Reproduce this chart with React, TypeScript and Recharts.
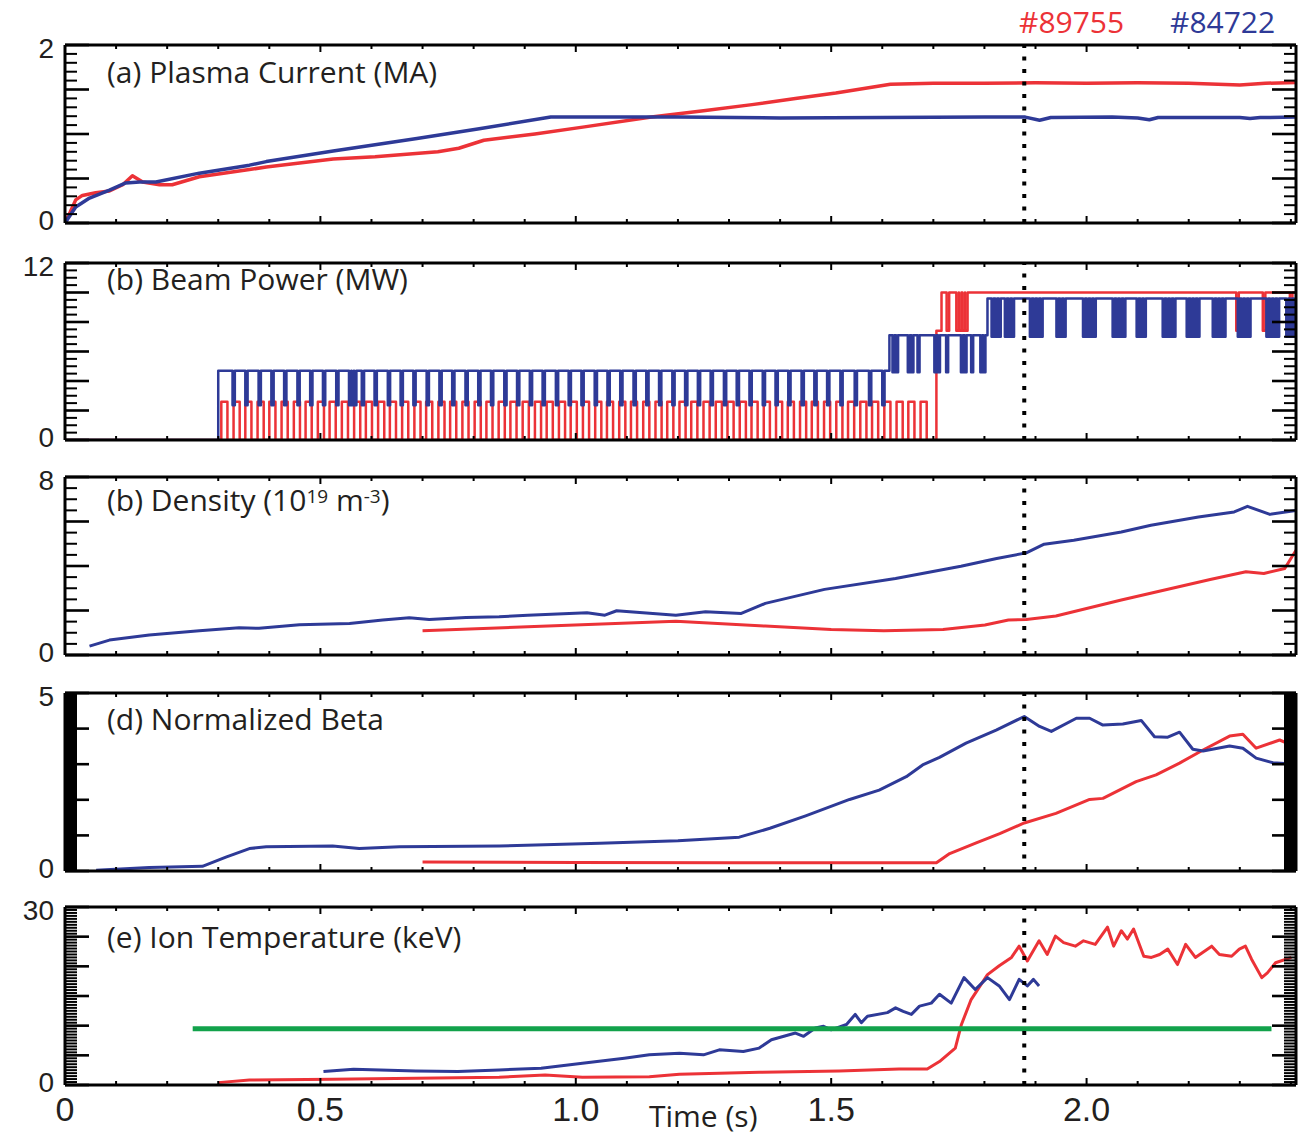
import React from "react";
import { LineChart, Line, XAxis, YAxis, ReferenceLine } from "recharts";

type Pt = [number, number];

const RED = "#EC3237";
const BLUE = "#2E3A97";
const GREEN = "#12A24B";

// ---------- shared axis data ----------
const timeTicks = [0, 0.1, 0.2, 0.3, 0.4, 0.5, 0.6, 0.7, 0.8, 0.9, 1.0, 1.1, 1.2, 1.3, 1.4, 1.5, 1.6, 1.7, 1.8, 1.9, 2.0, 2.1, 2.2, 2.3, 2.4];
const timeLabelValues = [0, 0.5, 1.0, 1.5, 2.0];
const timeLabelTexts = ["0", "0.5", "1.0", "1.5", "2.0"];
const markerTime = 1.878;
const shotRed = "#89755";
const shotBlue = "#84722";

// ---------- (a) plasma current ----------
const ipRed: Pt[] = [
  [0, 0], [0.01, 0.12], [0.021, 0.26], [0.034, 0.31], [0.06, 0.34], [0.087, 0.36], [0.113, 0.43], [0.132, 0.53],
  [0.152, 0.46], [0.185, 0.43], [0.21, 0.43], [0.263, 0.52], [0.361, 0.6], [0.394, 0.63], [0.525, 0.72], [0.607, 0.745],
  [0.73, 0.8], [0.771, 0.84], [0.82, 0.93], [0.92, 1.0], [1.017, 1.08], [1.148, 1.19], [1.25, 1.26], [1.345, 1.33],
  [1.43, 1.4], [1.509, 1.46], [1.616, 1.56], [1.7, 1.57], [1.8, 1.57], [1.9, 1.575], [2.0, 1.57], [2.1, 1.575],
  [2.2, 1.57], [2.3, 1.55], [2.35, 1.57], [2.41, 1.58],
];
const ipBlue: Pt[] = [
  [0, 0], [0.021, 0.18], [0.048, 0.28], [0.087, 0.37], [0.119, 0.45], [0.146, 0.46], [0.178, 0.46], [0.263, 0.56],
  [0.361, 0.65], [0.394, 0.69], [0.525, 0.81], [0.689, 0.95], [0.811, 1.06], [0.951, 1.19], [1.05, 1.19], [1.2, 1.19],
  [1.4, 1.18], [1.6, 1.185], [1.8, 1.19], [1.88, 1.19], [1.908, 1.155], [1.93, 1.185], [2.05, 1.19], [2.1, 1.18],
  [2.123, 1.16], [2.14, 1.185], [2.3, 1.185], [2.32, 1.175], [2.34, 1.185], [2.41, 1.19],
];

// ---------- (b) beam power ----------
interface BeamPhase { from: number; base: number; alt: number; width: number; at: number[] }
const pbRedPhases: BeamPhase[] = [
  { from: 0, base: 0, alt: 0, width: 0, at: [] },
  {
    from: 0.306, base: 0, alt: 2.6, width: 0.012,
    at: [0.306, 0.33, 0.353, 0.377, 0.4, 0.424, 0.448, 0.471, 0.495, 0.518, 0.542, 0.566, 0.589, 0.613, 0.636, 0.66,
      0.684, 0.707, 0.731, 0.754, 0.778, 0.802, 0.825, 0.849, 0.872, 0.896, 0.92, 0.943, 0.967, 0.99, 1.014, 1.038,
      1.061, 1.085, 1.108, 1.132, 1.156, 1.179, 1.203, 1.226, 1.25, 1.274, 1.297, 1.321, 1.344, 1.368, 1.392, 1.415,
      1.439, 1.462, 1.486, 1.51, 1.533, 1.557, 1.58, 1.604, 1.628, 1.651, 1.675],
  },
  { from: 1.706, base: 7.4, alt: 7.4, width: 0, at: [] },
  { from: 1.716, base: 10.0, alt: 7.4, width: 0.005, at: [1.726, 1.745, 1.750, 1.757, 1.762, 2.293, 2.345, 2.398] },
];
const pbBluePhases: BeamPhase[] = [
  { from: 0, base: 0, alt: 0, width: 0, at: [] },
  {
    from: 0.3, base: 4.7, alt: 2.35, width: 0.0045,
    at: [0.328, 0.353, 0.379, 0.404, 0.429, 0.455, 0.48, 0.505, 0.531, 0.556, 0.561, 0.566, 0.581, 0.606, 0.632, 0.657,
      0.682, 0.708, 0.733, 0.758, 0.784, 0.809, 0.834, 0.86, 0.885, 0.91, 0.935, 0.961, 0.986, 1.011, 1.037, 1.062,
      1.087, 1.113, 1.138, 1.163, 1.189, 1.214, 1.239, 1.264, 1.29, 1.315, 1.34, 1.366, 1.391, 1.416, 1.442, 1.467,
      1.492, 1.518, 1.546, 1.574, 1.6],
  },
  {
    from: 1.614, base: 7.1, alt: 4.6, width: 0.004,
    at: [1.62, 1.627, 1.65, 1.657, 1.669, 1.702, 1.709, 1.725, 1.754, 1.761, 1.774, 1.792, 1.798],
  },
  {
    from: 1.806, base: 9.6, alt: 7.0, width: 0.004,
    at: [1.814, 1.821, 1.828, 1.84, 1.847, 1.854, 1.889, 1.896, 1.903, 1.910, 1.941, 1.948, 1.955, 1.993, 2.0, 2.007,
      2.014, 2.051, 2.058, 2.065, 2.072, 2.098, 2.105, 2.112, 2.149, 2.156, 2.163, 2.170, 2.196, 2.203, 2.210, 2.217,
      2.247, 2.254, 2.261, 2.268, 2.296, 2.303, 2.310, 2.317, 2.352, 2.359, 2.366, 2.373, 2.391, 2.398, 2.405],
  },
];

// ---------- (c) density ----------
const neBlue: Pt[] = [
  [0.048, 0.4], [0.087, 0.67], [0.165, 0.9], [0.263, 1.09], [0.341, 1.22], [0.38, 1.2], [0.459, 1.36], [0.557, 1.42],
  [0.622, 1.57], [0.674, 1.67], [0.713, 1.6], [0.785, 1.69], [0.85, 1.72], [0.906, 1.79], [1.022, 1.9], [1.057, 1.79],
  [1.08, 1.99], [1.196, 1.79], [1.254, 1.94], [1.324, 1.87], [1.371, 2.32], [1.487, 2.95], [1.626, 3.44], [1.754, 3.99],
  [1.824, 4.34], [1.882, 4.59], [1.917, 4.98], [1.975, 5.16], [2.068, 5.53], [2.126, 5.83], [2.219, 6.2], [2.289, 6.43],
  [2.315, 6.68], [2.359, 6.32], [2.411, 6.5],
];
const neRed: Pt[] = [
  [0.7, 1.09], [0.906, 1.27], [1.196, 1.52], [1.371, 1.3], [1.5, 1.15], [1.603, 1.09], [1.719, 1.15], [1.801, 1.35],
  [1.847, 1.57], [1.882, 1.6], [1.94, 1.75], [2.068, 2.47], [2.242, 3.39], [2.312, 3.74], [2.347, 3.66], [2.388, 3.89],
  [2.41, 4.71],
];

// ---------- (d) normalized beta ----------
const betaBlue: Pt[] = [
  [0.061, 0.02], [0.165, 0.1], [0.269, 0.13], [0.315, 0.39], [0.361, 0.63], [0.394, 0.68], [0.524, 0.7], [0.576, 0.63],
  [0.655, 0.68], [0.85, 0.7], [1.047, 0.78], [1.2, 0.85], [1.32, 0.95], [1.38, 1.2], [1.45, 1.55], [1.536, 2.01],
  [1.594, 2.27], [1.647, 2.65], [1.679, 2.98], [1.712, 3.19], [1.764, 3.59], [1.823, 3.96], [1.878, 4.34], [1.908, 4.06],
  [1.931, 3.92], [1.98, 4.29], [2.006, 4.29], [2.032, 4.1], [2.071, 4.13], [2.107, 4.23], [2.133, 3.77], [2.159, 3.76],
  [2.182, 3.9], [2.208, 3.42], [2.228, 3.37], [2.28, 3.51], [2.306, 3.45], [2.332, 3.17], [2.365, 3.04], [2.41, 3.0],
];
const betaRed: Pt[] = [
  [0.7, 0.25], [1.0, 0.24], [1.3, 0.23], [1.536, 0.23], [1.706, 0.23], [1.732, 0.49], [1.784, 0.79], [1.83, 1.05],
  [1.878, 1.35], [1.94, 1.62], [2.006, 2.01], [2.032, 2.04], [2.097, 2.51], [2.136, 2.7], [2.182, 3.03], [2.228, 3.4],
  [2.28, 3.79], [2.306, 3.84], [2.332, 3.45], [2.378, 3.68], [2.41, 3.49],
];

// ---------- (e) ion temperature ----------
const tiRed: Pt[] = [
  [0.3, 0.4], [0.361, 0.85], [0.524, 0.97], [0.687, 1.13], [0.85, 1.3], [0.94, 1.69], [1.013, 1.3], [1.144, 1.41],
  [1.203, 1.81], [1.359, 2.15], [1.516, 2.37], [1.633, 2.71], [1.688, 2.71], [1.712, 3.95], [1.743, 6.22], [1.755, 10.2],
  [1.774, 14.4], [1.806, 18.6], [1.829, 20.1], [1.853, 21.5], [1.868, 23.4], [1.884, 20.9], [1.907, 24.3], [1.923, 22.0],
  [1.939, 25.1], [1.955, 24.0], [1.978, 23.4], [1.994, 24.3], [2.017, 23.7], [2.041, 26.6], [2.053, 23.4], [2.068, 26.0],
  [2.08, 24.6], [2.092, 26.3], [2.112, 21.7], [2.127, 21.5], [2.143, 22.0], [2.159, 22.9], [2.178, 20.3], [2.194, 23.7],
  [2.213, 21.5], [2.245, 23.4], [2.26, 22.0], [2.284, 21.7], [2.299, 22.9], [2.311, 23.4], [2.323, 21.2], [2.343, 18.1],
  [2.354, 18.9], [2.37, 20.6], [2.401, 21.5],
];
const tiBlue: Pt[] = [
  [0.506, 2.26], [0.565, 2.66], [0.687, 2.37], [0.769, 2.26], [0.85, 2.54], [0.932, 2.82], [1.013, 3.67], [1.095, 4.52],
  [1.144, 5.08], [1.203, 5.37], [1.25, 5.08], [1.281, 5.93], [1.328, 5.64], [1.359, 6.22], [1.383, 7.63], [1.43, 8.76],
  [1.446, 8.2], [1.469, 9.6], [1.485, 9.9], [1.5, 9.3], [1.53, 10.2], [1.547, 11.9], [1.559, 10.5], [1.571, 11.6],
  [1.61, 12.2], [1.626, 13.0], [1.641, 12.4], [1.657, 11.9], [1.673, 13.3], [1.696, 13.8], [1.712, 15.3], [1.735, 13.8],
  [1.76, 18.1], [1.782, 16.1], [1.806, 18.1], [1.829, 16.7], [1.849, 14.4], [1.868, 17.8], [1.884, 16.7], [1.896, 17.8],
  [1.907, 16.7],
];
const tiThreshold: Pt[] = [[0.25, 9.5], [2.362, 9.5]];

// ---------- helpers ----------
function beamSteps(phases: BeamPhase[], end: number): Pt[] {
  const pts: Pt[] = [];
  for (const ph of phases) {
    pts.push([ph.from, ph.base]);
    for (const n of ph.at) {
      pts.push([n, ph.alt]);
      pts.push([n + ph.width, ph.base]);
    }
  }
  pts.push([end, pts[pts.length - 1][1]]);
  return pts;
}
const toRows = (pts: Pt[]) => pts.map(([t, v]) => ({ t, v }));
const makeTicks = (max: number, step: number) => {
  const n = Math.round(max / step);
  const out: number[] = [];
  for (let i = 0; i <= n; i++) out.push(Math.round(i * step * 1000) / 1000);
  return out;
};
const isMult = (v: number, step: number) => Math.abs(v / step - Math.round(v / step)) < 1e-6;

interface SeriesSpec { data: Pt[]; color: string; width: number; step?: boolean }
interface PanelSpec {
  top: number; height: number; yMax: number; major: number; minor: number; series: SeriesSpec[]; last?: boolean;
}

const PLOT_LEFT = 65;
const PLOT_RIGHT = 1296;
const W = 1306;
const PAD = 12;

const panels: PanelSpec[] = [
  { top: 45, height: 178, yMax: 2, major: 0.5, minor: 0.1, series: [
    { data: ipRed, color: RED, width: 3.5 }, { data: ipBlue, color: BLUE, width: 3.5 }] },
  { top: 263, height: 177, yMax: 12, major: 2, minor: 0.5, series: [
    { data: beamSteps(pbRedPhases, 2.41), color: RED, width: 2.5, step: true },
    { data: beamSteps(pbBluePhases, 2.41), color: BLUE, width: 2.5, step: true }] },
  { top: 477, height: 178, yMax: 8, major: 2, minor: 0.5, series: [
    { data: neRed, color: RED, width: 3 }, { data: neBlue, color: BLUE, width: 3 }] },
  { top: 693, height: 178, yMax: 5, major: 1, minor: 0.025, series: [
    { data: betaRed, color: RED, width: 3 }, { data: betaBlue, color: BLUE, width: 3 }] },
  { top: 907, height: 178, yMax: 30, major: 5, minor: 0.5, last: true, series: [
    { data: tiRed, color: RED, width: 3 }, { data: tiBlue, color: BLUE, width: 3 }, { data: tiThreshold, color: GREEN, width: 5 }] },
];

const labelFont = "'Liberation Sans', Arial, sans-serif";

function Panel({ spec }: { spec: PanelSpec }) {
  const bottomPad = spec.last ? 50 : PAD;
  const yTicks = makeTicks(spec.yMax, spec.minor);
  const leftTick = (p: any) => {
    const v = p.payload.value;
    const major = isMult(v, spec.major);
    const len = major ? 24 : 12;
    const isTop = Math.abs(v - spec.yMax) < 1e-6;
    const isZero = Math.abs(v) < 1e-6;
    return (
      <g>
        <line x1={p.x} x2={p.x + len} y1={p.y} y2={p.y} stroke="#000" strokeWidth={major ? 2.6 : 2} />
        {(isTop || isZero) && (
          <text x={p.x - 11} y={isZero ? p.y - 3 : p.y + 3} textAnchor="end" dominantBaseline="central"
            fontFamily={labelFont} fontSize={28} fill="#231F20">{isTop ? String(spec.yMax) : "0"}</text>
        )}
      </g>
    );
  };
  const rightTick = (p: any) => {
    const v = p.payload.value;
    const major = isMult(v, spec.major);
    const len = major ? 24 : 12;
    return <line x1={p.x} x2={p.x - len} y1={p.y} y2={p.y} stroke="#000" strokeWidth={major ? 2.6 : 2} />;
  };
  const topTick = (p: any) => {
    const major = isMult(p.payload.value, 0.5);
    return <line x1={p.x} x2={p.x} y1={p.y} y2={p.y + (major ? 7 : 4)} stroke="#000" strokeWidth={2} />;
  };
  const bottomTick = (p: any) => {
    const v = p.payload.value;
    const major = isMult(v, 0.5);
    const li = timeLabelValues.findIndex((x) => Math.abs(x - v) < 1e-6);
    return (
      <g>
        <line x1={p.x} x2={p.x} y1={p.y} y2={p.y - (major ? 7 : 4)} stroke="#000" strokeWidth={2} />
        {spec.last && li >= 0 && (
          <text x={p.x} y={p.y + 24} textAnchor="middle" dominantBaseline="central" fontFamily={labelFont}
            fontSize={34} fill="#231F20">{timeLabelTexts[li]}</text>
        )}
      </g>
    );
  };
  const axisLine = { stroke: "#000", strokeWidth: 3 };
  // axes are 1px thick boxes so that they are drawn; margins compensate
  return (
    <div style={{ position: "absolute", left: 0, top: spec.top - PAD }}>
      <LineChart width={W} height={spec.height + PAD + bottomPad}
        margin={{ top: PAD - 1, bottom: bottomPad - 1, left: PLOT_LEFT - 1, right: W - PLOT_RIGHT - 1 }}>
        <XAxis xAxisId="b" dataKey="t" type="number" domain={[0, 2.41]} allowDataOverflow ticks={timeTicks}
          interval={0} height={1} tickSize={0} tickMargin={0} tickLine={false} axisLine={axisLine} tick={bottomTick} />
        <XAxis xAxisId="top" orientation="top" dataKey="t" type="number" domain={[0, 2.41]} allowDataOverflow
          ticks={timeTicks} interval={0} height={1} tickSize={0} tickMargin={0} tickLine={false} axisLine={axisLine}
          tick={topTick} />
        <YAxis yAxisId="l" type="number" domain={[0, spec.yMax]} allowDataOverflow ticks={yTicks} interval={0}
          width={1} tickSize={0} tickMargin={0} tickLine={false} axisLine={axisLine} tick={leftTick} />
        <YAxis yAxisId="r" orientation="right" type="number" domain={[0, spec.yMax]} allowDataOverflow ticks={yTicks}
          interval={0} width={1} tickSize={0} tickMargin={0} tickLine={false} axisLine={axisLine} tick={rightTick} />
        {spec.series.map((s, i) => (
          <Line key={i} xAxisId="b" yAxisId="l" data={toRows(s.data)} dataKey="v" type={s.step ? "stepAfter" : "linear"}
            stroke={s.color} strokeWidth={s.width} dot={false} activeDot={false} isAnimationActive={false}
            strokeLinejoin="round" />
        ))}
        <ReferenceLine xAxisId="b" yAxisId="l" x={markerTime} stroke="#000" strokeWidth={4} strokeDasharray="4 8.5" />
      </LineChart>
    </div>
  );
}

const panelLabelStyle: React.CSSProperties = {
  position: "absolute", left: 107, fontFamily: "'Open Sans', sans-serif", fontSize: 30, lineHeight: "40px",
  color: "#231F20", whiteSpace: "nowrap",
};
const supStyle: React.CSSProperties = { fontSize: 19, position: "relative", top: -8 };

export default function App() {
  return (
    <div style={{ position: "absolute", left: 0, top: 0, width: 1306, height: 1141, background: "#fff", overflow: "hidden" }}>
      {panels.map((p, i) => <Panel key={i} spec={p} />)}
      <div style={{ ...panelLabelStyle, top: 52 }}>(a) Plasma Current (MA)</div>
      <div style={{ ...panelLabelStyle, top: 259 }}>(b) Beam Power (MW)</div>
      <div style={{ ...panelLabelStyle, top: 480 }}>
        (b) Density (10<span style={supStyle}>19</span> m<span style={supStyle}>-3</span>)
      </div>
      <div style={{ ...panelLabelStyle, top: 699 }}>(d) Normalized Beta</div>
      <div style={{ ...panelLabelStyle, top: 917 }}>(e) Ion Temperature (keV)</div>
      <div style={{ ...panelLabelStyle, left: 1019, top: 1.5, color: RED }}>{shotRed}</div>
      <div style={{ ...panelLabelStyle, left: 1170, top: 1.5, color: BLUE }}>{shotBlue}</div>
      <div style={{ ...panelLabelStyle, left: 649, top: 1098, lineHeight: "36px" }}>Time (s)</div>
    </div>
  );
}
